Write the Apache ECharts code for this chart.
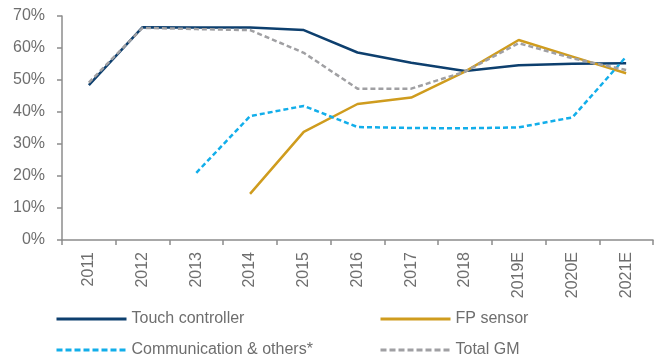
<!DOCTYPE html>
<html>
<head>
<meta charset="utf-8">
<script src="https://cdn.jsdelivr.net/npm/echarts@6/dist/echarts.min.js"></script>
<style>
  html, body { margin: 0; padding: 0; background: #fff; }
  #chart { width: 659px; height: 360px; }
</style>
</head>
<body>
<div id="chart"></div>
<script>
// Gross margin by product line, 2011 – 2021E
const years = ['2011', '2012', '2013', '2014', '2015', '2016', '2017', '2018', '2019E', '2020E', '2021E'];
const touchController = [48.4, 66.5, 66.4, 66.4, 65.6, 58.6, 55.4, 52.8, 54.6, 55.1, 55.2];
const fpSensor = [null, null, null, 14.4, 33.8, 42.5, 44.5, 52.6, 62.5, 57.3, 52.1];
const communication = [null, null, 21.0, 38.7, 41.9, 35.3, 35.0, 34.9, 35.2, 38.3, 57.3];
const totalGM = [49.2, 66.3, 65.9, 65.6, 58.5, 47.3, 47.3, 52.6, 61.5, 56.8, 53.1];
const yTicks = [0, 10, 20, 30, 40, 50, 60, 70];

const FONT = '"Liberation Sans", Arial, sans-serif';
const TXT = '#6e6e6e';
const AX = '#8c8c8c';

const chart = echarts.init(document.getElementById('chart'), null, { renderer: 'canvas' });

function lineSeries(name, data, color, dashed) {
  return {
    name: name,
    type: 'line',
    data: data,
    symbol: 'none',
    connectNulls: false,
    lineStyle: { color: color, width: 2.5, type: dashed ? [5, 3] : 'solid' },
    itemStyle: { color: color },
    emphasis: { disabled: true }
  };
}

function legendAt(name, left, top, dashed) {
  return {
    orient: 'horizontal',
    data: [name],
    left: left,
    top: top,
    itemWidth: 70,
    itemHeight: 12,
    itemGap: 10,
    itemStyle: { opacity: 0 },
    lineStyle: { width: 3, type: dashed ? [6, 3] : 'solid' },
    textStyle: { fontFamily: FONT, fontSize: 16, color: TXT }
  };
}

chart.setOption({
  animation: false,
  backgroundColor: '#fff',
  grid: { left: 62, right: 6, top: 16, bottom: 120 },
  legend: [
    legendAt('Touch controller', 50, 306, false),
    legendAt('FP sensor', 374, 306, false),
    legendAt('Communication & others*', 50, 337, true),
    legendAt('Total GM', 374, 337, true)
  ],
  xAxis: {
    type: 'category',
    data: years,
    boundaryGap: true,
    axisLine: { lineStyle: { color: AX, width: 1.5 } },
    axisTick: { show: true, length: 5, alignWithLabel: false, lineStyle: { color: AX, width: 1.5 } },
    axisLabel: { rotate: 90, margin: 12, fontFamily: FONT, fontSize: 16, color: TXT, interval: 0 }
  },
  yAxis: {
    type: 'value',
    min: yTicks[0],
    max: yTicks[yTicks.length - 1],
    interval: 10,
    axisLine: { show: true, lineStyle: { color: AX, width: 1.5 } },
    axisTick: { show: true, length: 5, lineStyle: { color: AX, width: 1.5 } },
    splitLine: { show: false },
    axisLabel: { margin: 17, fontFamily: FONT, fontSize: 16, color: TXT, formatter: '{value}%' }
  },
  series: [
    lineSeries('Touch controller', touchController, '#0d3f6e', false),
    lineSeries('FP sensor', fpSensor, '#cf9c1e', false),
    lineSeries('Communication & others*', communication, '#12aeea', true),
    lineSeries('Total GM', totalGM, '#a0a0a3', true)
  ]
});
</script>
</body>
</html>
